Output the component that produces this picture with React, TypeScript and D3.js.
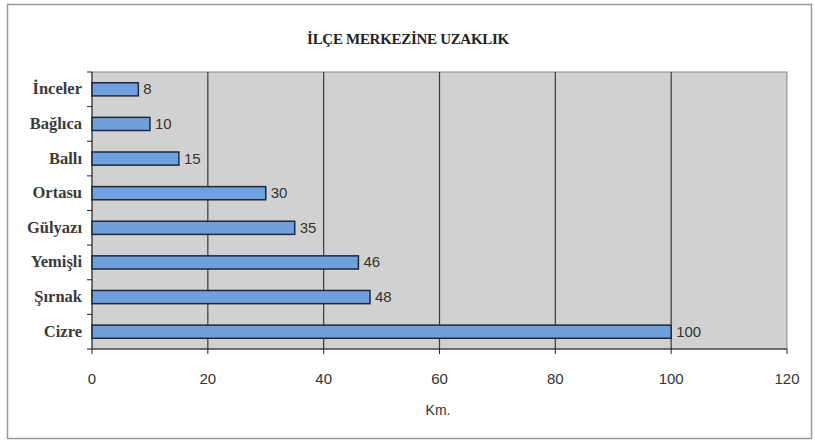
import React from "react";
import * as d3 from "d3";

const categories = ["İnceler", "Bağlıca", "Ballı", "Ortasu", "Gülyazı", "Yemişli", "Şırnak", "Cizre"];
const values = [8, 10, 15, 30, 35, 46, 48, 100];
const xTicks = [0, 20, 40, 60, 80, 100, 120];
const title = "İLÇE MERKEZİNE UZAKLIK";
const xTitle = "Km.";

export default function App() {
  const W = 815, H = 442;
  const m = { left: 92, right: 787, top: 72, bottom: 349 };
  const x = d3.scaleLinear().domain([0, 120]).range([m.left, m.right]);
  const y = d3.scaleBand<string>().domain(categories).range([m.top, m.bottom]).paddingInner(0.62).paddingOuter(0.31);
  const yb = d3.scaleBand<string>().domain(categories).range([m.top, m.bottom]);
  return (
    <svg width={W} height={H} style={{ position: "absolute", left: 0, top: 0, background: "#fff" }}>
      <rect x={7.5} y={4.5} width={804} height={434} fill="#fff" stroke="#999" strokeWidth={1.5} />
      <text x={408} y={44} textAnchor="middle" fontFamily="Liberation Serif, serif" fontWeight="bold" fontSize={15} fill="#222" letterSpacing={-0.3}>{title}</text>
      <rect x={m.left} y={m.top} width={m.right - m.left} height={m.bottom - m.top} fill="#d1d1d1" stroke="#8a8a8a" />
      {xTicks.slice(1, -1).map(t => (
        <line key={t} x1={x(t)} x2={x(t)} y1={m.top} y2={m.bottom} stroke="#3a3a3a" strokeWidth={1.2} />
      ))}
      <line x1={m.left} x2={m.left} y1={m.top} y2={m.bottom} stroke="#222" />
      <line x1={m.left} x2={m.right} y1={m.bottom} y2={m.bottom} stroke="#222" />
      {categories.map((c, i) => (
        <line key={"yt" + i} x1={m.left - 5} x2={m.left} y1={(yb(c) as number)} y2={(yb(c) as number)} stroke="#222" />
      ))}
      <line x1={m.left - 5} x2={m.left} y1={m.bottom} y2={m.bottom} stroke="#222" />
      {xTicks.map(t => (
        <g key={"xt" + t}>
          <line x1={x(t)} x2={x(t)} y1={m.bottom} y2={m.bottom + 5} stroke="#222" />
          <text x={x(t)} y={384} textAnchor="middle" fontFamily="Liberation Sans, Arial, sans-serif" fontSize={15} fill="#333">{t}</text>
        </g>
      ))}
      <text x={438} y={415} textAnchor="middle" fontFamily="Liberation Sans, Arial, sans-serif" fontSize={14} fill="#333">{xTitle}</text>
      {categories.map((c, i) => {
        const yy = y(c) as number;
        const bh = y.bandwidth();
        return (
          <g key={c}>
            <rect x={x(0)} y={yy} width={x(values[i]) - x(0)} height={bh} fill="#6f9fdc" stroke="#1e2a3a" strokeWidth={1.5} />
            <text x={x(values[i]) + 5} y={yy + bh / 2 + 5} fontFamily="Liberation Sans, Arial, sans-serif" fontSize={15} fill="#333">{values[i]}</text>
            <text x={m.left - 10} y={yy + bh / 2 + 5} textAnchor="end" fontFamily="Liberation Serif, serif" fontWeight="bold" fontSize={16.5} fill="#3a3a3a">{c}</text>
          </g>
        );
      })}
    </svg>
  );
}
